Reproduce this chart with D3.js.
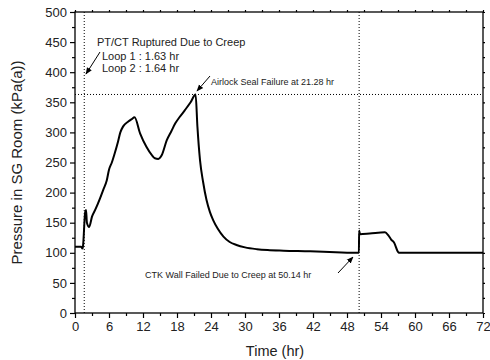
<!DOCTYPE html>
<html>
<head>
<meta charset="utf-8">
<script src="https://cdn.jsdelivr.net/npm/d3@7"></script>
<style>
  body { margin: 0; background: #fff; }
  svg { display: block; font-family: Arial, "Liberation Sans", sans-serif; }
</style>
</head>
<body>
<div id="chart"></div>
<script>
// SG room pressure transient
const hours = [0, 1.1, 1.3, 1.4, 1.8, 1.95, 2.1, 2.5, 3.0, 3.6, 4.4, 5.0, 5.6, 6.0, 6.5, 7.0, 7.6, 8.0, 8.5,
  9.4, 10.0, 10.5, 11.5, 12.6, 13.5, 14.1, 14.7, 15.3, 16.2, 17.0, 17.7, 18.5, 19.4, 20.4, 21.28,
  21.6, 22.06, 22.6, 23.2, 23.8, 24.4, 25.2, 26.2, 27.3, 28.5, 30.0, 32.1, 34.0, 36.8, 41.5, 46.0,
  50.1, 50.14, 50.3, 52.0, 54.7, 55.3, 55.8, 56.3, 57.05, 57.3, 72];
const pressure = [110, 110, 107, 110, 168, 171, 150, 143, 160, 172, 190, 205, 220, 238, 250, 265, 285, 300, 310,
  318, 322, 325, 298, 276, 263, 257, 256, 262, 287, 302, 315, 326, 337, 350, 363,
  310, 254, 218, 188, 168, 154, 140, 127, 118, 113, 109, 106, 104.5, 103.5, 102.5, 101,
  100, 137, 131, 132, 134, 129, 122, 117, 101, 100, 100];

const xTicks = d3.range(0, 73, 6);
const yTicks = d3.range(0, 501, 50);
const xMinor = d3.range(3, 72, 6);
const yMinor = d3.range(25, 500, 50);

const ruptureTime = 1.63;
const ctkTime = 50.14;
const airlockPressure = 363;

const width = 490, height = 360;
const margin = { top: 12, right: 7, bottom: 47, left: 75 };
const innerW = width - margin.left - margin.right;
const innerH = height - margin.top - margin.bottom;

const x = d3.scaleLinear().domain([0, 72]).range([0, innerW]);
const y = d3.scaleLinear().domain([0, 500]).range([innerH, 0]);

const svg = d3.select('#chart').append('svg')
  .attr('width', width).attr('height', height);

const g = svg.append('g').attr('transform', `translate(${margin.left},${margin.top})`);

// reference lines (dotted)
const dot = sel => sel.attr('stroke', '#000').attr('stroke-width', 1).attr('stroke-dasharray', '1,2');
g.append('line').call(dot)
  .attr('x1', x(ruptureTime)).attr('x2', x(ruptureTime)).attr('y1', 0).attr('y2', innerH);
g.append('line').call(dot)
  .attr('x1', x(ctkTime)).attr('x2', x(ctkTime)).attr('y1', 0).attr('y2', innerH);
g.append('line').call(dot)
  .attr('x1', 0).attr('x2', innerW).attr('y1', y(airlockPressure)).attr('y2', y(airlockPressure));

// curve
const data = hours.map((h, i) => ({ h, p: pressure[i] }));
g.append('path').datum(data)
  .attr('fill', 'none').attr('stroke', '#000').attr('stroke-width', 2)
  .attr('stroke-linejoin', 'round')
  .attr('d', d3.line().x(d => x(d.h)).y(d => y(d.p)).curve(d3.curveMonotoneX));

// axes
const styleAxis = (ax, fs) => {
  ax.select('.domain').remove();
  ax.selectAll('line').attr('stroke', '#000').attr('stroke-width', 1.2);
  ax.selectAll('text').attr('fill', '#222').style('font-size', fs);
};

g.append('g').attr('transform', `translate(0,${innerH})`)
  .call(d3.axisBottom(x).tickValues(xTicks).tickSize(5).tickPadding(4).tickFormat(d3.format('d')))
  .call(ax => styleAxis(ax, '13px'));
g.append('g').attr('transform', `translate(0,${innerH})`)
  .call(d3.axisBottom(x).tickValues(xMinor).tickSize(3).tickFormat(''))
  .call(ax => styleAxis(ax, '13px'));

g.append('g')
  .call(d3.axisLeft(y).tickValues(yTicks).tickSize(5).tickPadding(3).tickFormat(d3.format('d')))
  .call(ax => styleAxis(ax, '13px'));
g.append('g')
  .call(d3.axisLeft(y).tickValues(yMinor).tickSize(3).tickFormat(''))
  .call(ax => styleAxis(ax, '13px'));

// top / right: short ticks
g.append('g')
  .call(d3.axisTop(x).tickValues(xTicks.concat(xMinor)).tickSize(2).tickFormat(''))
  .call(ax => styleAxis(ax, '13px'));
g.append('g').attr('transform', `translate(${innerW},0)`)
  .call(d3.axisRight(y).tickValues(yTicks.concat(yMinor)).tickSize(2).tickFormat(''))
  .call(ax => styleAxis(ax, '13px'));

// frame
g.append('rect').attr('width', innerW).attr('height', innerH)
  .attr('fill', 'none').attr('stroke', '#000').attr('stroke-width', 1.3);

// axis titles
svg.append('text')
  .attr('x', margin.left + innerW / 2 - 4).attr('y', 356)
  .attr('text-anchor', 'middle').attr('fill', '#222').style('font-size', '14.5px')
  .text('Time (hr)');
svg.append('text')
  .attr('transform', `translate(22,${margin.top + innerH / 2}) rotate(-90)`)
  .attr('text-anchor', 'middle').attr('fill', '#222').style('font-size', '15px')
  .text('Pressure in SG Room (kPa(a))');

// annotations
const defs = svg.append('defs');
defs.append('marker').attr('id', 'arr')
  .attr('viewBox', '0 0 10 10').attr('refX', 9).attr('refY', 5)
  .attr('markerWidth', 7).attr('markerHeight', 7).attr('orient', 'auto')
  .append('path').attr('d', 'M0,1 L10,5 L0,9 Z').attr('fill', '#000');

const arrow = (x1, y1, x2, y2) => svg.append('line')
  .attr('x1', x1).attr('y1', y1).attr('x2', x2).attr('y2', y2)
  .attr('stroke', '#000').attr('stroke-width', 1).attr('marker-end', 'url(#arr)');

const note = (tx, ty, txt, fs) => svg.append('text')
  .attr('x', tx).attr('y', ty).attr('fill', '#222').style('font-size', fs).text(txt);

note(97, 46, 'PT/CT Ruptured Due to Creep', '11px');
note(102, 60, 'Loop 1 : 1.63 hr', '11px');
note(102, 72, 'Loop 2 : 1.64 hr', '11px');
arrow(100, 52, 86, 74);

note(211, 85, 'Airlock Seal Failure at 21.28 hr', '9px');
arrow(210, 76, 197, 91);

note(145, 278, 'CTK Wall Failed Due to Creep at 50.14 hr', '9px');
arrow(338, 273, 353, 257);
</script>
</body>
</html>
